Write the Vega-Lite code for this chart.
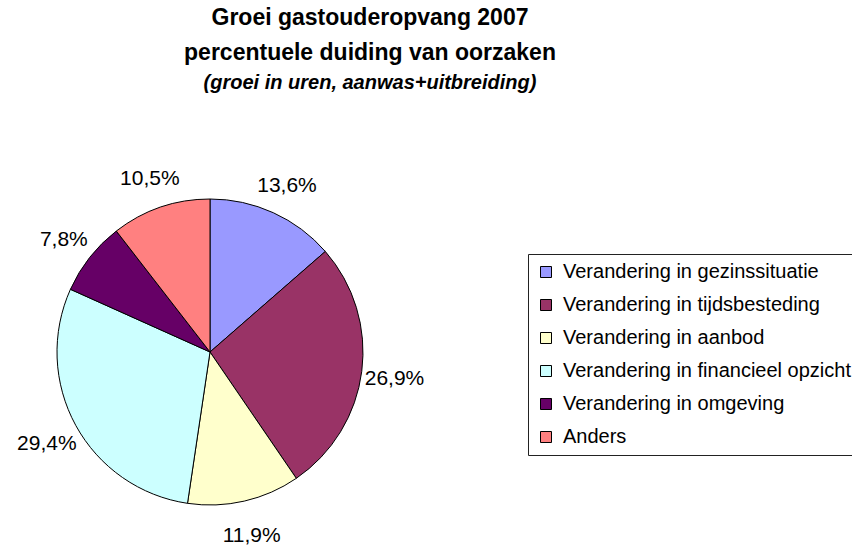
{
  "$schema": "https://vega.github.io/schema/vega-lite/v6.json",
  "width": 306,
  "height": 306,
  "autosize": {"type": "none"},
  "padding": {"left": 57, "top": 199, "right": 489, "bottom": 41},
  "background": "white",
  "title": {
    "text": ["Groei gastouderopvang 2007", "percentuele duiding van oorzaken"],
    "subtitle": "\u00a0\u00a0\u00a0\u00a0\u00a0\u00a0\u00a0(groei in uren, aanwas+uitbreiding)",
    "anchor": "middle",
    "frame": "group",
    "dx": 160,
    "offset": 75,
    "font": "Liberation Sans",
    "fontSize": 23,
    "fontWeight": "bold",
    "color": "black",
    "lineHeight": 35,
    "subtitleFont": "Liberation Sans",
    "subtitleFontSize": 20,
    "subtitleFontWeight": "bold",
    "subtitleFontStyle": "italic",
    "subtitleColor": "black",
    "subtitlePadding": 8
  },
  "config": {
    "view": {"stroke": null},
    "locale": {
      "number": {"decimal": ",", "thousands": ".", "grouping": [3], "currency": ["€", ""]}
    }
  },
  "data": {
    "values": [
      {"oorzaak": "Verandering in gezinssituatie", "aandeel": 0.136, "volgorde": 1},
      {"oorzaak": "Verandering in tijdsbesteding", "aandeel": 0.269, "volgorde": 2},
      {"oorzaak": "Verandering in aanbod", "aandeel": 0.119, "volgorde": 3},
      {"oorzaak": "Verandering in financieel opzicht", "aandeel": 0.294, "volgorde": 4},
      {"oorzaak": "Verandering in omgeving", "aandeel": 0.078, "volgorde": 5},
      {"oorzaak": "Anders", "aandeel": 0.105, "volgorde": 6}
    ]
  },
  "encoding": {
    "theta": {"field": "aandeel", "type": "quantitative", "stack": true},
    "order": {"field": "volgorde", "type": "ordinal"}
  },
  "layer": [
    {
      "mark": {"type": "arc", "outerRadius": 153, "stroke": "black", "strokeWidth": 1},
      "encoding": {
        "color": {
          "field": "oorzaak",
          "type": "nominal",
          "scale": {
            "domain": ["Verandering in gezinssituatie", "Verandering in tijdsbesteding", "Verandering in aanbod", "Verandering in financieel opzicht", "Verandering in omgeving", "Anders"],
            "range": ["#9999FF", "#993366", "#FFFFCC", "#CCFFFF", "#660066", "#FF8080"]
          },
          "legend": {
            "orient": "none",
            "legendX": 471,
            "legendY": 55,
            "title": null,
            "padding": 8,
            "strokeColor": "#222222",
            "fillColor": "white",
            "symbolType": "square",
            "symbolSize": 121,
            "symbolStrokeColor": "black",
            "symbolStrokeWidth": 1,
            "symbolOpacity": 1,
            "labelFont": "Liberation Sans",
            "labelFontSize": 20,
            "labelColor": "black",
            "labelLimit": 500,
            "labelOffset": 7,
            "rowPadding": 13
          }
        }
      }
    },
    {
      "mark": {"type": "text", "radius": 186, "dy": 3, "font": "Liberation Sans", "fontSize": 21, "fill": "black"},
      "encoding": {
        "text": {"field": "aandeel", "type": "quantitative", "format": ".1%"}
      }
    }
  ]
}
